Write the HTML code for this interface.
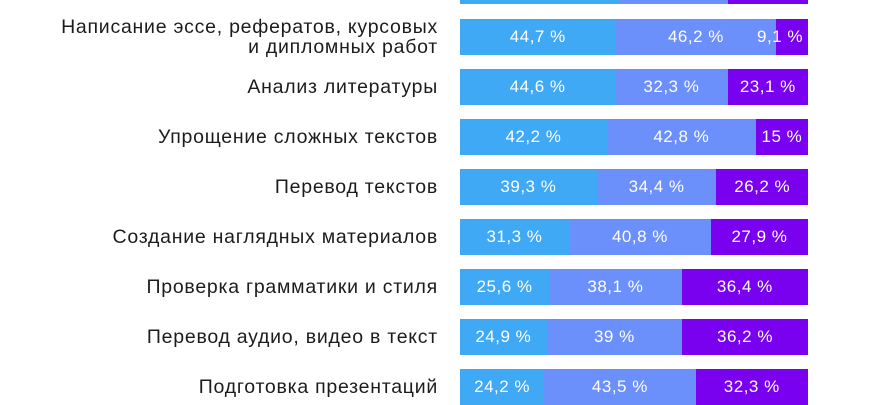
<!DOCTYPE html>
<html><head><meta charset="utf-8"><style>
body{margin:0;width:870px;height:400px;background:#fff;position:relative;overflow:hidden;font-family:"Liberation Sans","DejaVu Sans",sans-serif}
.l{position:absolute;right:432px;text-align:right;color:#1c1c1c;font-size:19.5px;letter-spacing:0.75px;line-height:20px;white-space:nowrap}
.b{position:absolute;left:460px;width:348px;height:36px;display:flex}
.b div{height:100%;display:flex;align-items:center;justify-content:center;color:#fff;font-size:17px;letter-spacing:0.5px;white-space:nowrap}
.a{background:#3fa9f5}.m{background:#6b8ffb}.p{background:#7a00f0}
</style></head><body>
<div class="b" style="top:-32px"><div class="a" style="width:45.7%"></div><div class="m" style="width:31.3%"></div><div class="p" style="width:23%"></div></div>

<div class="l" style="top:17px">Написание эссе, рефератов, курсовых<br>и дипломных работ</div>
<div class="b" style="top:19px"><div class="a" style="width:44.7%">44,7 %</div><div class="m" style="width:46.2%">46,2 %</div><div class="p" style="width:9.1%;overflow:visible;justify-content:flex-end;padding-right:5px;box-sizing:border-box">9,1 %</div></div>

<div class="l" style="top:77px">Анализ литературы</div>
<div class="b" style="top:69px"><div class="a" style="width:44.6%">44,6 %</div><div class="m" style="width:32.3%">32,3 %</div><div class="p" style="width:23.1%">23,1 %</div></div>

<div class="l" style="top:127px">Упрощение сложных текстов</div>
<div class="b" style="top:119px"><div class="a" style="width:42.2%">42,2 %</div><div class="m" style="width:42.8%">42,8 %</div><div class="p" style="width:15%">15 %</div></div>

<div class="l" style="top:177px">Перевод текстов</div>
<div class="b" style="top:169px"><div class="a" style="width:39.3%">39,3 %</div><div class="m" style="width:34.4%">34,4 %</div><div class="p" style="width:26.3%">26,2 %</div></div>

<div class="l" style="top:227px">Создание наглядных материалов</div>
<div class="b" style="top:219px"><div class="a" style="width:31.3%">31,3 %</div><div class="m" style="width:40.8%">40,8 %</div><div class="p" style="width:27.9%">27,9 %</div></div>

<div class="l" style="top:277px">Проверка грамматики и стиля</div>
<div class="b" style="top:269px"><div class="a" style="width:25.6%">25,6 %</div><div class="m" style="width:38.1%">38,1 %</div><div class="p" style="width:36.3%">36,4 %</div></div>

<div class="l" style="top:327px">Перевод аудио, видео в текст</div>
<div class="b" style="top:319px"><div class="a" style="width:24.9%">24,9 %</div><div class="m" style="width:38.9%">39 %</div><div class="p" style="width:36.2%">36,2 %</div></div>

<div class="l" style="top:377px">Подготовка презентаций</div>
<div class="b" style="top:369px"><div class="a" style="width:24.2%">24,2 %</div><div class="m" style="width:43.5%">43,5 %</div><div class="p" style="width:32.3%">32,3 %</div></div>
</body></html>
